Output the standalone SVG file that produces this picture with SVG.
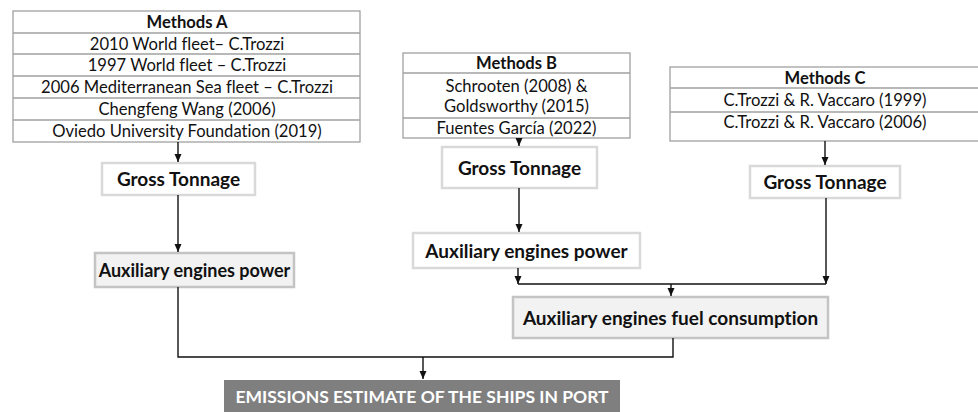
<svg xmlns="http://www.w3.org/2000/svg" width="978" height="412" viewBox="0 0 978 412">
<defs>
<style>
.t{font-family:Lato,"Liberation Sans",sans-serif;font-size:16.6px;fill:#111;text-anchor:middle;font-variant-ligatures:none}
.b{font-weight:bold}
.big{font-size:19px}
.tbl{fill:#fff;stroke:#a0a0a0;stroke-width:1.3}
.ln{stroke:#a0a0a0;stroke-width:1.3}
.gt{fill:#fff;stroke:#d9d9d9;stroke-width:2.5}
.gp{fill:#f2f2f2;stroke:#c4c4c4;stroke-width:2.5}
.em{fill:#7f7f7f}
.c{fill:none;stroke:#111;stroke-width:1.4}
</style>
<marker id="a" markerUnits="userSpaceOnUse" markerWidth="8" markerHeight="8" refX="8" refY="3.5" orient="auto" viewBox="0 0 8 7">
<path d="M0 0 L8 3.5 L0 7 Z" fill="#111"/>
</marker>
</defs>
<rect width="978" height="412" fill="#fff"/>

<g id="methodsA">
<rect class="tbl" x="13" y="11" width="347" height="131"/>
<line class="ln" x1="13" y1="33" x2="360" y2="33"/>
<line class="ln" x1="13" y1="54" x2="360" y2="54"/>
<line class="ln" x1="13" y1="76" x2="360" y2="76"/>
<line class="ln" x1="13" y1="98" x2="360" y2="98"/>
<line class="ln" x1="13" y1="120" x2="360" y2="120"/>
<text class="t b" x="187" y="27.5">Methods A</text>
<text class="t" x="187" y="49.5">2010 World fleet– C.Trozzi</text>
<text class="t" x="187" y="71">1997 World fleet – C.Trozzi</text>
<text class="t" x="187" y="93">2006 Mediterranean Sea fleet – C.Trozzi</text>
<text class="t" x="187" y="115">Chengfeng Wang (2006)</text>
<text class="t" x="187" y="137">Oviedo University Foundation (2019)</text>
</g>

<g id="methodsB">
<rect class="tbl" x="403" y="53" width="227" height="85"/>
<line class="ln" x1="403" y1="73" x2="630" y2="73"/>
<line class="ln" x1="403" y1="118" x2="630" y2="118"/>
<text class="t b" x="516.5" y="68.5">Methods B</text>
<text class="t" x="516.5" y="92">Schrooten (2008) &amp;</text>
<text class="t" x="516.5" y="112">Goldsworthy (2015)</text>
<text class="t" x="516.5" y="133.5">Fuentes García (2022)</text>
</g>

<g id="methodsC">
<rect class="tbl" x="670" y="67" width="320" height="74"/>
<line class="ln" x1="670" y1="88" x2="978" y2="88"/>
<line class="ln" x1="670" y1="112" x2="978" y2="112"/>
<text class="t b" x="825" y="83.5">Methods C</text>
<text class="t" x="825" y="105.5">C.Trozzi &amp; R. Vaccaro (1999)</text>
<text class="t" x="825" y="127.5">C.Trozzi &amp; R. Vaccaro (2006)</text>
</g>

<g id="gtA">
<rect class="gt" x="102" y="163" width="153" height="32"/>
<text class="t b big" x="178.5" y="185.5">Gross Tonnage</text>
</g>
<g id="gtB">
<rect class="gt" x="442" y="147" width="155" height="41"/>
<text class="t b big" x="519.5" y="174.5">Gross Tonnage</text>
</g>
<g id="gtC">
<rect class="gt" x="750" y="166" width="150" height="32"/>
<text class="t b big" x="825" y="188.5">Gross Tonnage</text>
</g>

<g id="auxA">
<rect class="gp" x="95" y="253" width="199" height="34"/>
<text class="t b big" x="194.5" y="276.5" style="font-size:18px">Auxiliary engines power</text>
</g>
<g id="auxB">
<rect class="gt" x="413" y="233" width="227" height="35"/>
<text class="t b big" x="526.5" y="257.5">Auxiliary engines power</text>
</g>
<g id="fuel">
<rect class="gp" x="513" y="297" width="315" height="41"/>
<text class="t b big" x="670.5" y="324.5">Auxiliary engines fuel consumption</text>
</g>
<g id="emissions">
<rect class="em" x="224" y="380" width="396" height="34"/>
<text class="t b" x="422" y="403" style="fill:#fff;font-size:17.5px">EMISSIONS ESTIMATE OF THE SHIPS IN PORT</text>
</g>

<g id="connectors">
<path class="c" d="M178 142 V162" marker-end="url(#a)"/>
<path class="c" d="M178 195 V252" marker-end="url(#a)"/>
<path class="c" d="M519 138 V146" marker-end="url(#a)"/>
<path class="c" d="M519 188 V232" marker-end="url(#a)"/>
<path class="c" d="M825 141 V165" marker-end="url(#a)"/>
<path class="c" d="M826 198 V284" marker-end="url(#a)"/>
<path class="c" d="M518 268 V284" marker-end="url(#a)"/>
<path class="c" d="M518 284 H826"/>
<path class="c" d="M671 284 V296" marker-end="url(#a)"/>
<path class="c" d="M673 338 V357 H178 V287"/>
<path class="c" d="M423 357 V379" marker-end="url(#a)"/>
</g>
</svg>
